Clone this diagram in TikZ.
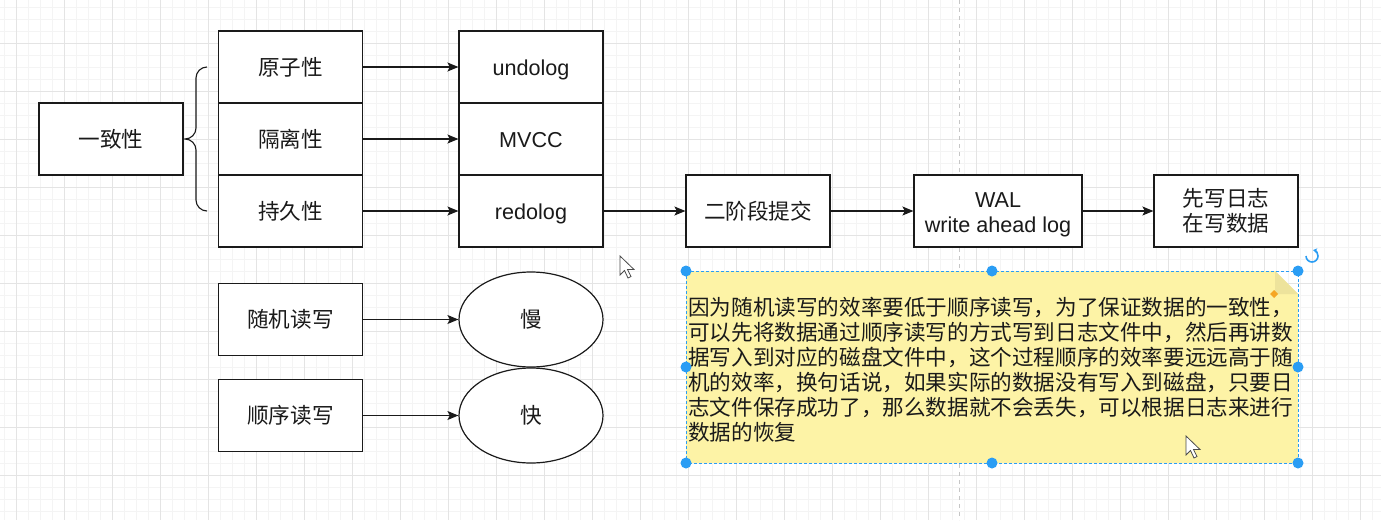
\documentclass[tikz,border=0pt]{standalone}
\usepackage{fontspec}
\setmainfont{Liberation Sans}
\newfontfamily\cjk{Noto Sans CJK SC}
\usetikzlibrary{arrows.meta,shapes.geometric}
\definecolor{txt}{HTML}{1A1A1A}
\definecolor{minorg}{HTML}{F4F4F4}
\definecolor{majorg}{HTML}{E4E4E4}
\definecolor{notey}{HTML}{FDF3A6}
\definecolor{foldy}{HTML}{EDE39C}
\definecolor{selblue}{HTML}{2A9DF4}
\definecolor{hdlorange}{HTML}{F5A623}
\tikzset{
  box/.style={draw=txt, line width=1.2pt, fill=white, minimum width=144pt, minimum height=72pt, inner sep=0pt, text=txt, font=\fontsize{21.6}{25}\selectfont, align=center},
  cbox/.style={box, font=\cjk\fontsize{21.6}{25}\selectfont},
  lbox/.style={box, text height=19pt, text depth=2pt},
  oval/.style={ellipse, draw=txt, line width=1.2pt, fill=white, minimum width=144pt, minimum height=95pt, inner sep=0pt, text=txt, font=\cjk\fontsize{21.6}{25}\selectfont},
  conn/.style={draw=txt, line width=1.2pt, -{Stealth[length=11pt,width=9pt,inset=2.5pt]}},
  handle/.style={circle, fill=selblue, draw=none, minimum size=11pt, inner sep=0pt},
}
\begin{document}
\begin{tikzpicture}[x=1pt,y=-1pt]
\useasboundingbox (0,0) rectangle (1381,520);
\fill[white] (0,0) rectangle (1381,520);
% grid
\foreach \i in {0,...,115} { \draw[minorg, line width=0.6pt] ({4+12*\i},0) -- ({4+12*\i},520); }
\foreach \j in {0,...,43} { \draw[minorg, line width=0.6pt] (0,{7+12*\j}) -- (1381,{7+12*\j}); }
\foreach \i in {0,...,28} { \draw[majorg, line width=0.9pt] ({16+48*\i},0) -- ({16+48*\i},520); }
\foreach \j in {-1,...,10} { \draw[majorg, line width=0.9pt] (0,{43+48*\j}) -- (1381,{43+48*\j}); }
\draw[gray!45, line width=0.9pt, dash pattern=on 4pt off 4pt] (959,0) -- (959,520);

% nodes
\node[cbox] (yzx) at (111,139) {一致性};
\node[cbox] (yzx1) at (290.5,67) {原子性};
\node[cbox] (glx) at (290.5,139) {隔离性};
\node[cbox] (cjx) at (290.5,211) {持久性};
\node[lbox] (undo) at (531,67) {undolog};
\node[lbox] (mvcc) at (531,139) {MVCC};
\node[lbox] (redo) at (531,211) {redolog};
\node[cbox] (ejd) at (758,211) {二阶段提交};
\node[box, minimum width=168pt, text height=44pt, text depth=2pt] (wal) at (998,211) {WAL\\write ahead log};
\node[cbox] (xxrz) at (1226,211) {先写日志\\在写数据};
\node[cbox] (sjdx) at (290.5,319.5) {随机读写};
\node[cbox] (sxdx) at (290.5,415.5) {顺序读写};
\node[oval] (man) at (531,319.5) {慢};
\node[oval] (kuai) at (531,415.5) {快};

% brace
\draw[txt, line width=1.1pt] (207,67) to[out=180,in=90] (196,78) -- (196,128) to[out=-90,in=0] (185,139)
  to[out=0,in=90] (196,150) -- (196,200) to[out=-90,in=180] (207,211);

% connectors
\draw[conn] (yzx1) -- (undo);
\draw[conn] (glx) -- (mvcc);
\draw[conn] (cjx) -- (redo);
\draw[conn] (redo) -- (ejd);
\draw[conn] (ejd) -- (wal);
\draw[conn] (wal) -- (xxrz);
\draw[conn] (sjdx.east) -- (man.west);
\draw[conn] (sxdx.east) -- (kuai.west);

% note
\fill[notey] (686,271) -- (1275,271) -- (1298,294) -- (1298,463) -- (686,463) -- cycle;
\fill[foldy] (1275,271) -- (1298,294) -- (1275,294) -- cycle;
\node[anchor=west, inner sep=0pt, align=left, text=txt, font=\cjk\fontsize{21.6}{25}\selectfont] (notetext) at (688,369.5)
{因为随机读写的效率要低于顺序读写，为了保证数据的一致性，\\
可以先将数据通过顺序读写的方式写到日志文件中，然后再讲数\\
据写入到对应的磁盘文件中，这个过程顺序的效率要远远高于随\\
机的效率，换句话说，如果实际的数据没有写入到磁盘，只要日\\
志文件保存成功了，那么数据就不会丢失，可以根据日志来进行\\
数据的恢复};
\draw[selblue, line width=0.9pt, dash pattern=on 3pt off 2pt] (686,271) rectangle (1298,463);
\foreach \p in {(686,271),(992,271),(1298,271),(686,367),(1298,367),(686,463),(992,463),(1298,463)} { \node[handle] at \p {}; }
\fill[hdlorange] (1274,290) -- (1278,294) -- (1274,298) -- (1270,294) -- cycle;
% rotate icon
\draw[selblue, line width=1.6pt, -{Stealth[length=4pt,width=5pt]}] (1306,256) arc[start angle=180, end angle=-80, radius=6];

% cursors
\draw[black!70, fill=white, line width=0.8pt] (620,256) -- (620,275) -- (624.5,270.5) -- (628,278) -- (631,276.5) -- (627.5,269.5) -- (634,269.5) -- cycle;
\draw[black!70, fill=white, line width=0.8pt] (1186,436) -- (1186,455) -- (1190.5,450.5) -- (1194,458) -- (1197,456.5) -- (1193.5,449.5) -- (1200,449.5) -- cycle;
\end{tikzpicture}
\end{document}
